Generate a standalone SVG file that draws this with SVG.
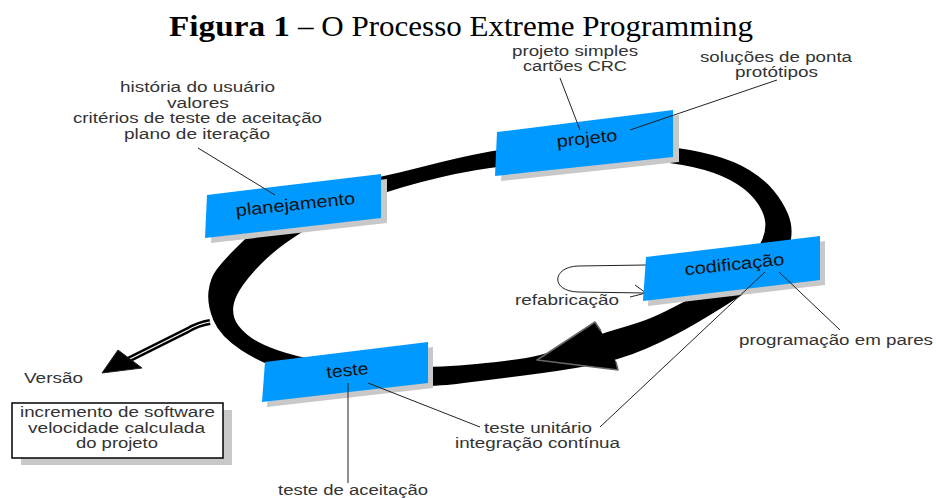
<svg xmlns="http://www.w3.org/2000/svg" width="936" height="498" viewBox="0 0 936 498">
<style>
.ann{font-family:"Liberation Sans",Arial,sans-serif;font-size:14px;fill:#333}
.lbl{font-family:"Liberation Sans",Arial,sans-serif;font-size:17px;fill:#111}
.box{fill:#0099ff}
.shadow{fill:#c8c8c8}
.lead{stroke:#222;stroke-width:1;fill:none}
.title{font-family:"Liberation Serif","Times New Roman",serif;font-size:29px;fill:#000}
</style>
<rect width="936" height="498" fill="#fff"/>
<g id="title">
<text class="title" x="169" y="36" font-weight="bold" textLength="121" lengthAdjust="spacingAndGlyphs">Figura 1</text>
<text class="title" x="298" y="36" textLength="455" lengthAdjust="spacingAndGlyphs">– O Processo Extreme Programming</text>
</g>
<g id="connectors">
<path id="loop" fill="#000" fill-rule="evenodd" d="M285,203.5 Q300,192 341.5,184.5 Q383,177 421.5,167 Q460,157 490,151.5 Q520,146 570,143.5 Q620,141 655,145 Q690,149 712.5,155 Q735,161 750,170.5 Q765,180 774,191 Q783,202 788,214 Q793,226 791,239 Q789,252 774.5,267.5 Q760,283 741,295.5 Q722,308 697.5,322.5 Q673,337 646.5,348.5 Q620,360 590,365.5 Q560,371 520,376 Q480,381 456.5,384 Q433,387 381.5,386 Q330,385 296,374.5 Q262,364 241,350 Q220,336 213.5,320.5 Q207,305 208.5,291.5 Q210,278 217,269 Q224,260 234,250 Q244,240 257,227.5 Q270,215 285,203.5 Z M313.5,225 Q330,215 356.5,203.5 Q383,192 421.5,182 Q460,172 490,168 Q520,164 570,162 Q620,160 645,161 Q670,162 692.5,167 Q715,172 730,180 Q745,188 753.5,198 Q762,208 764.5,218 Q767,228 762.5,239 Q758,250 741.5,265 Q725,280 702.5,292 Q680,304 666,311 Q652,318 640,322 Q628,326 614,330 Q600,334 580,342 Q560,350 540,355 Q520,360 476.5,364 Q433,368 391.5,367 Q350,366 323.5,361.5 Q297,357 277,350 Q257,343 247,334.5 Q237,326 234.5,318.5 Q232,311 234,303 Q236,295 243,285 Q250,275 261.5,263.5 Q273,252 285,243.5 Q297,235 313.5,225 Z"/>
<path id="loop-arrowhead" d="M601,331 L595,322 L537,360 L618,370 L616,362" fill="#000" stroke="#666" stroke-width="1.5" stroke-linejoin="round"/>
<g id="versao-arrow">
<path d="M210,322 Q198,324 188,330 L124,362" fill="none" stroke="#000" stroke-width="6"/>
<path d="M210,322 Q198,324 188,330 L124,362" fill="none" stroke="#fff" stroke-width="1.2"/>
<polygon points="102,373 118,350 142,368" fill="#000" stroke="#222" stroke-width="1"/>
</g>
<path id="refab-loop" class="lead" d="M646,265 L578,266 C552,267 550,291 578,292 L646,293"/>
<path class="lead" d="M635,285 L646,293 L630,297"/>
</g>
<g id="planejamento">
<polygon class="shadow" points="213,200 387,179 387,223 211,243"/>
<polygon class="box" points="207,195 381,174 381,218 205,238"/>
<text class="lbl" x="236" y="210" textLength="120" lengthAdjust="spacingAndGlyphs" transform="rotate(-6 296 210)">planejamento</text>
</g>
<g id="projeto">
<polygon class="shadow" points="503,137 679,115 679,162 501,181"/>
<polygon class="box" points="497,132 673,110 673,157 495,176"/>
<text class="lbl" x="557" y="144" textLength="61" lengthAdjust="spacingAndGlyphs" transform="rotate(-6 587.5 144)">projeto</text>
</g>
<g id="codificacao">
<polygon class="shadow" points="651,262 825,241 825,285 648,306"/>
<polygon class="box" points="646,257 820,236 820,280 643,301"/>
<text class="lbl" x="685" y="270" textLength="100" lengthAdjust="spacingAndGlyphs" transform="rotate(-6 735 270)">codificação</text>
</g>
<g id="teste">
<polygon class="shadow" points="270,367 433,347 433,388 267,407"/>
<polygon class="box" points="265,362 428,342 428,383 262,402"/>
<text class="lbl" x="327" y="376" textLength="42" lengthAdjust="spacingAndGlyphs" transform="rotate(-6 347.5 376)">teste</text>
</g>
<g id="leaders">
<line class="lead" x1="198" y1="148" x2="275" y2="195"/>
<line class="lead" x1="560" y1="78" x2="580" y2="130"/>
<line class="lead" x1="777" y1="80" x2="630" y2="130"/>
<line class="lead" x1="765" y1="272" x2="600" y2="427"/>
<line class="lead" x1="779" y1="272" x2="840" y2="330"/>
<line class="lead" x1="368" y1="383" x2="480" y2="427"/>
<line class="lead" x1="348" y1="383" x2="348" y2="483"/>
</g>
<g id="planejamento-notes">
<text class="ann" x="120" y="92" textLength="155" lengthAdjust="spacingAndGlyphs">história do usuário</text>
<text class="ann" x="167" y="108" textLength="62" lengthAdjust="spacingAndGlyphs">valores</text>
<text class="ann" x="73" y="123" textLength="249" lengthAdjust="spacingAndGlyphs">critérios de teste de aceitação</text>
<text class="ann" x="124" y="139" textLength="146" lengthAdjust="spacingAndGlyphs">plano de iteração</text>
</g>
<g id="projeto-notes">
<text class="ann" x="512" y="56" textLength="126" lengthAdjust="spacingAndGlyphs">projeto simples</text>
<text class="ann" x="523" y="71" textLength="104" lengthAdjust="spacingAndGlyphs">cartões CRC</text>
<text class="ann" x="700" y="62" textLength="152" lengthAdjust="spacingAndGlyphs">soluções de ponta</text>
<text class="ann" x="735" y="77" textLength="83" lengthAdjust="spacingAndGlyphs">protótipos</text>
</g>
<g id="codificacao-notes">
<text class="ann" x="515" y="305" textLength="104" lengthAdjust="spacingAndGlyphs">refabricação</text>
<text class="ann" x="739" y="345" textLength="194" lengthAdjust="spacingAndGlyphs">programação em pares</text>
</g>
<g id="teste-notes">
<text class="ann" x="484" y="433" textLength="108" lengthAdjust="spacingAndGlyphs">teste unitário</text>
<text class="ann" x="455" y="448" textLength="165" lengthAdjust="spacingAndGlyphs">integração contínua</text>
<text class="ann" x="278" y="495" textLength="150" lengthAdjust="spacingAndGlyphs">teste de aceitação</text>
</g>
<g id="versao">
<text class="ann" x="24" y="383" textLength="59" lengthAdjust="spacingAndGlyphs">Versão</text>
<rect x="21" y="410" width="211" height="55" fill="#c8c8c8"/>
<rect x="12" y="403" width="211" height="55" fill="#fff" stroke="#000" stroke-width="1.5"/>
<text class="ann" x="20" y="417" textLength="195" lengthAdjust="spacingAndGlyphs">incremento de software</text>
<text class="ann" x="28" y="433" textLength="177" lengthAdjust="spacingAndGlyphs">velocidade calculada</text>
<text class="ann" x="76" y="448" textLength="82" lengthAdjust="spacingAndGlyphs">do projeto</text>
</g>
</svg>
